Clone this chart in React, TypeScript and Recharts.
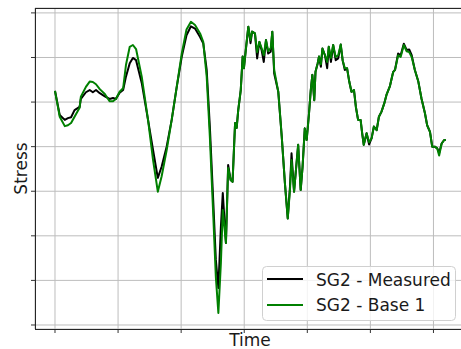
import React from "react";
import { LineChart, Line, XAxis, YAxis, CartesianGrid, Legend, Label } from "recharts";

// sample times (arbitrary units: one x tick = 20)
const time = [
  0, 1.5, 3.1, 4.1, 5.1, 6.2, 7.8, 8.2, 9.8, 11.0,
  12.0, 13.0, 14.2, 15.8, 17.3, 18.4, 19.3, 20.5, 21.6, 22.5,
  23.7, 24.7, 25.7, 27.5, 29.5, 31.1, 32.6, 33.8, 35.4, 37.0,
  38.6, 40.2, 41.7, 43.1, 44.4, 46.0, 47.0, 48.1, 49.1, 50.2,
  51.0, 51.8, 52.6, 53.2, 54.2, 54.9, 55.7, 56.3, 57.1, 57.6,
  58.1, 58.9, 59.5, 59.9, 60.5, 61.3, 62.0, 62.5, 63.4, 64.1,
  64.8, 65.5, 66.2, 66.9, 67.6, 68.4, 68.9, 69.5, 70.8, 71.9,
  72.9, 73.8, 74.5, 75.0, 75.8, 76.4, 77.1, 77.9, 78.5, 79.2,
  79.8, 80.5, 81.1, 81.6, 82.2, 82.6, 83.3, 83.7, 84.3, 84.8,
  85.6, 86.3, 86.8, 87.5, 88.2, 89.0, 89.8, 90.6, 91.2, 91.9,
  92.6, 93.3, 94.0, 94.8, 95.4, 96.1, 96.9, 97.4, 97.9, 98.8,
  99.6, 100.4, 101.1, 102.0, 102.7, 103.5, 104.4, 105.1, 106.2, 107.2,
  107.8, 108.8, 109.6, 110.6, 111.5, 112.3, 113.1, 114.1, 115.2, 116.2,
  117.3, 118.0, 118.9, 119.6, 120.4, 121.2, 121.8, 122.6, 123.4, 123.9,
];

// SG2 - Measured
const measured = [
  52.5, 47.1, 46.0, 46.4, 46.6, 48.2, 48.9, 50.7, 52.2, 52.7,
  52.2, 52.7, 52.0, 51.3, 50.7, 50.9, 50.7, 52.1, 52.7, 55.7,
  58.7, 59.9, 59.4, 54.3, 46.0, 39.2, 33.0, 35.5, 40.0, 46.0,
  53.4, 60.2, 65.0, 67.0, 66.5, 64.6, 63.2, 57.2, 44.5, 27.4,
  14.6, 8.3, 22.0, 29.6, 18.4, 35.9, 32.5, 32.1, 45.3, 44.2,
  48.2, 52.7, 60.2, 57.6, 61.7, 66.9, 63.2, 65.8, 65.4, 59.8,
  63.5, 61.7, 59.0, 63.9, 60.9, 61.3, 65.8, 56.4, 52.3, 42.2,
  31.8, 23.9, 31.0, 38.5, 29.9, 34.8, 40.4, 30.3, 35.5, 44.1,
  41.5, 47.1, 52.7, 56.1, 50.4, 56.8, 58.7, 60.2, 57.9, 62.0,
  60.5, 57.6, 62.4, 59.0, 62.8, 59.4, 59.8, 62.9, 59.4, 57.2,
  57.6, 54.6, 52.3, 52.7, 48.9, 46.0, 46.0, 43.0, 40.4, 43.0,
  40.5, 41.9, 44.5, 43.7, 46.7, 47.8, 49.7, 51.6, 53.6, 56.7,
  57.2, 60.9, 60.5, 63.1, 61.7, 61.8, 60.5, 57.2, 54.6, 50.8,
  47.5, 44.8, 43.3, 40.0, 40.0, 39.6, 38.6, 40.7, 41.5, 41.5,
];

// SG2 - Base 1
const base1 = [
  52.5, 46.7, 44.6, 44.8, 45.3, 46.7, 48.7, 51.2, 53.4, 54.6,
  54.5, 54.0, 52.9, 51.8, 50.2, 50.2, 50.7, 52.3, 53.1, 58.3,
  62.4, 62.8, 61.9, 55.7, 46.0, 37.0, 29.9, 33.3, 39.2, 46.0,
  53.4, 60.9, 66.3, 68.0, 67.3, 65.4, 63.5, 55.7, 42.2, 24.3,
  10.8, 2.7, 13.9, 25.8, 18.4, 35.2, 32.5, 32.1, 45.3, 44.2,
  48.2, 52.7, 60.2, 57.6, 61.7, 66.9, 63.9, 65.8, 65.4, 61.2,
  63.5, 62.1, 60.5, 63.9, 61.4, 62.1, 65.8, 57.2, 52.3, 42.2,
  31.8, 23.9, 30.3, 37.0, 29.9, 34.8, 40.4, 30.3, 35.5, 44.1,
  41.5, 47.1, 52.7, 56.1, 50.4, 56.8, 58.7, 60.2, 58.5, 62.0,
  60.5, 59.0, 62.4, 59.9, 62.8, 60.1, 60.5, 62.9, 59.4, 57.6,
  57.6, 54.6, 52.3, 52.7, 48.9, 46.0, 46.0, 43.0, 40.4, 43.0,
  41.0, 41.9, 44.5, 43.7, 46.7, 47.8, 49.7, 51.6, 53.6, 56.7,
  57.2, 60.5, 60.1, 62.8, 61.4, 61.2, 60.1, 57.2, 54.6, 50.8,
  47.5, 44.8, 43.3, 40.0, 40.0, 39.6, 38.0, 40.7, 41.5, 41.5,
];

const xTicks = [0, 20, 40, 60, 80, 100, 120];
const yTicks = [0, 10, 20, 30, 40, 50, 60, 70];

const series = [
  { key: "measured", name: "SG2 - Measured", color: "#000000" },
  { key: "base1", name: "SG2 - Base 1", color: "#008000" },
];

const data = time.map((t, i) => ({ t, measured: measured[i], base1: base1[i] }));

const FONT = "'DejaVu Sans', sans-serif";
const TEXT = "#1a1a1a";

// matplotlib-style legend box, items kept in plotting order
function LegendBox() {
  return (
    <svg width={194} height={55} style={{ display: "block" }}>
      <rect x={0.5} y={0.5} width={193} height={54} rx={4} fill="#fff" fillOpacity={0.8} stroke="#d0d0d0" />
      {series.map((s, i) => (
        <g key={s.key}>
          <line x1={5} x2={41} y1={13 + 26 * i} y2={13 + 26 * i} stroke={s.color} strokeWidth={2} />
          <text x={54} y={19.5 + 25.5 * i} fontFamily={FONT} fontSize={17} fill={TEXT}>
            {s.name}
          </text>
        </g>
      ))}
    </svg>
  );
}

export default function App() {
  return (
    <div style={{ position: "absolute", left: 0, top: 0, width: 461, height: 349, overflow: "hidden", background: "#fff" }}>
      <LineChart width={466} height={349} data={data} margin={{ top: 8, right: 1, bottom: 0, left: 0 }}>
        <CartesianGrid stroke="#bdbdbd" strokeWidth={1} />
        <XAxis
          dataKey="t"
          type="number"
          domain={[-6.34, 130]}
          allowDataOverflow
          ticks={xTicks}
          tickFormatter={() => ""}
          tickSize={4}
          tickLine={{ stroke: "#333" }}
          axisLine={false}
          height={20}
        >
          <Label
            content={({ viewBox }: any) => (
              <text x={viewBox.x + viewBox.width / 2} y={345.5} textAnchor="middle" fontFamily={FONT} fontSize={17} fill={TEXT}>
                Time
              </text>
            )}
          />
        </XAxis>
        <YAxis
          type="number"
          domain={[-0.9, 71.1]}
          allowDataOverflow
          ticks={yTicks}
          tickFormatter={() => ""}
          tickSize={4}
          tickLine={{ stroke: "#333" }}
          axisLine={false}
          width={35}
        >
          <Label
            content={({ viewBox }: any) => {
              const cx = 27;
              const cy = viewBox.y + viewBox.height / 2;
              return (
                <text x={cx} y={cy} transform={`rotate(-90 ${cx} ${cy})`} textAnchor="middle" fontFamily={FONT} fontSize={17} fill={TEXT}>
                  Stress
                </text>
              );
            }}
          />
        </YAxis>
        {series.map((s) => (
          <Line
            key={s.key}
            type="linear"
            dataKey={s.key}
            name={s.name}
            stroke={s.color}
            strokeWidth={2}
            strokeLinejoin="round"
            dot={false}
            isAnimationActive={false}
          />
        ))}
        <Legend
          layout="vertical"
          align="center"
          verticalAlign="middle"
          wrapperStyle={{ left: 262, top: 266, width: 194, height: 55 }}
          content={() => <LegendBox />}
        />
      </LineChart>
      <div
        style={{
          position: "absolute",
          left: 35,
          top: 8,
          width: 431,
          height: 322,
          border: "1px solid #262626",
          boxSizing: "border-box",
          pointerEvents: "none",
        }}
      />
    </div>
  );
}
